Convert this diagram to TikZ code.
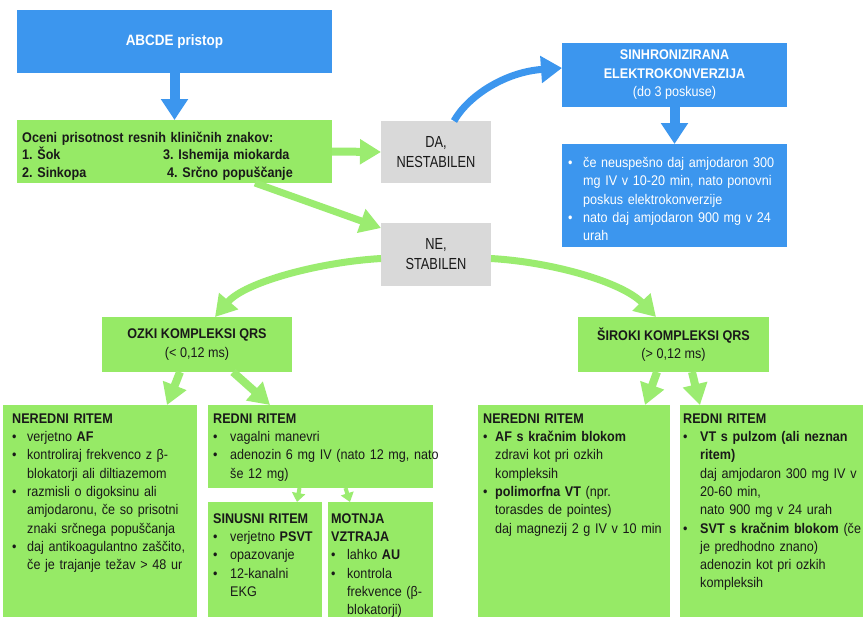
\documentclass[tikz,border=0pt]{standalone}
\usepackage{fontspec}
\setmainfont{Liberation Sans}[FakeStretch=0.9]
\newfontfamily\narrowsans{Liberation Sans}[FakeStretch=0.8]
\usetikzlibrary{arrows.meta,calc}
\setlength\parindent{0pt}
\frenchspacing

\definecolor{boxblue}{RGB}{60,150,238}
\definecolor{boxgreen}{RGB}{150,234,102}
\definecolor{arrowgreen}{RGB}{155,236,112}
\definecolor{boxgray}{RGB}{217,217,217}
\definecolor{inktext}{RGB}{25,25,25}

% bullet paragraph with hanging indent #1
\newcommand\bul[1]{\par\hangindent=#1\hangafter=1\noindent\makebox[#1][l]{\textbullet}}
% fixes the height of the first line so the top anchor is predictable
\newcommand\topstrut{\rule{0pt}{14pt}}

\tikzset{
  box/.style={anchor=north west, inner sep=0pt, outer sep=0pt},
  bluebox/.style={box, fill=boxblue},
  greenbox/.style={box, fill=boxgreen},
  graybox/.style={box, fill=boxgray, align=center, text=inktext,
    font=\narrowsans\fontsize{16}{20}\selectfont},
  centered/.style={align=center, font=\fontsize{14}{18.5}\selectfont},
  bodytext/.style={anchor=north west, inner sep=0pt, align=left, text width=330pt,
    font=\fontsize{14}{18.3}\selectfont, text=inktext},
  bluearrow/.style={draw=boxblue, line width=10pt, -{Triangle[width=26pt,length=21pt]}},
  greenarrow/.style={draw=arrowgreen, line width=8pt, -{Triangle[width=24pt,length=21pt]}},
  smallarrow/.style={draw=arrowgreen, line width=4pt, -{Triangle[width=13pt,length=9pt]}},
}

\begin{document}
\begin{tikzpicture}[x=1pt,y=-1pt]
\useasboundingbox (0,0) rectangle (864,616);
\clip (0,0) rectangle (864,616);
\fill[white] (0,0) rectangle (864,616);

% --- top row ---
\node[bluebox, minimum width=315pt, minimum height=63pt, text=white,
      font=\bfseries\fontsize{15}{18}\selectfont] (abcde) at (17,10) {ABCDE pristop};

\node[greenbox, minimum width=315pt, minimum height=63pt] (oceni) at (17,120) {};
\node[bodytext, font=\bfseries\fontsize{14}{17.5}\selectfont] (ocenitxt) at (22,128)
  {\topstrut Oceni prisotnost resnih kliničnih znakov:\newline
   \makebox[141pt][l]{1. Šok}3. Ishemija miokarda\newline
   \makebox[145pt][l]{2. Sinkopa}4. Srčno popuščanje\par};

\node[graybox, minimum width=110pt, minimum height=62pt] (da) at (381,121) {DA,\\NESTABILEN};

\node[bluebox, centered, minimum width=225pt, minimum height=64pt, text=white]
  (sinhro) at (562,43) {\textbf{SINHRONIZIRANA}\\\textbf{ELEKTROKONVERZIJA}\\(do 3 poskuse)};

\node[bluebox, minimum width=225pt, minimum height=103pt] (amjo) at (562,144) {};
\node[bodytext, text=white] (amjotxt) at (568,149)
  {\bul{15pt}\topstrut če neuspešno daj amjodaron 300\newline
     mg IV v 10-20 min, nato ponovni\newline poskus elektrokonverzije
   \bul{15pt}nato daj amjodaron 900 mg v 24\newline urah\par};

\node[graybox, minimum width=110pt, minimum height=63pt] (ne) at (381,223) {NE,\\STABILEN};

% --- QRS width ---
\node[greenbox, centered, minimum width=190pt, minimum height=55pt, text=inktext]
  (ozki) at (102,317) {\textbf{OZKI KOMPLEKSI QRS}\\(< 0,12 ms)};
\node[greenbox, centered, minimum width=191pt, minimum height=55pt, text=inktext]
  (siroki) at (578,317) {\textbf{ŠIROKI KOMPLEKSI QRS}\\(> 0,12 ms)};

% --- rhythm boxes ---
\node[greenbox, minimum width=194pt, minimum height=215pt] (nered1) at (3,405) {};
\node[greenbox, minimum width=225pt, minimum height=83pt]  (redni1) at (208,405) {};
\node[greenbox, minimum width=114pt, minimum height=115pt] (sinus)  at (208,502) {};
\node[greenbox, minimum width=105pt, minimum height=115pt] (motnja) at (328,502) {};
\node[greenbox, minimum width=192pt, minimum height=215pt] (nered2) at (478,405) {};
\node[greenbox, minimum width=183pt, minimum height=215pt] (redni2) at (680,405) {};

\node[bodytext] (nered1txt) at (12,409)
  {\topstrut\textbf{NEREDNI RITEM}
   \bul{15pt}verjetno \textbf{AF}
   \bul{15pt}kontroliraj frekvenco z β-\newline blokatorji ali diltiazemom
   \bul{15pt}razmisli o digoksinu ali\newline amjodaronu, če so prisotni\newline znaki srčnega popuščanja
   \bul{15pt}daj antikoagulantno zaščito,\newline če je trajanje težav > 48 ur\par};

\node[bodytext] (redni1txt) at (213,409)
  {\topstrut\textbf{REDNI RITEM}
   \bul{17pt}vagalni manevri
   \bul{17pt}adenozin 6 mg IV (nato 12 mg, nato\newline še 12 mg)\par};

\node[bodytext] (sinustxt) at (213,509)
  {\topstrut\textbf{SINUSNI RITEM}
   \bul{17pt}verjetno \textbf{PSVT}
   \bul{17pt}opazovanje
   \bul{17pt}12-kanalni\newline EKG\par};

\node[bodytext] (motnjatxt) at (331,509)
  {\topstrut\textbf{MOTNJA}\newline\textbf{VZTRAJA}
   \bul{16pt}lahko \textbf{AU}
   \bul{16pt}kontrola\newline frekvence (β-\newline blokatorji)\par};

\node[bodytext] (nered2txt) at (483,409)
  {\topstrut\textbf{NEREDNI RITEM}
   \bul{12pt}\textbf{AF s kračnim blokom}\newline zdravi kot pri ozkih\newline kompleksih
   \bul{12pt}\textbf{polimorfna VT} (npr.\newline torasdes de pointes)\newline daj magnezij 2 g IV v 10 min\par};

\node[bodytext] (redni2txt) at (683,409)
  {\topstrut\textbf{REDNI RITEM}
   \bul{17pt}\textbf{VT s pulzom (ali neznan}\newline\textbf{ritem)}\newline
     daj amjodaron 300 mg IV v\newline 20-60 min,\newline nato 900 mg v 24 urah
   \bul{17pt}\textbf{SVT s kračnim blokom} (če\newline je predhodno znano)\newline
     adenozin kot pri ozkih\newline kompleksih\par};

% --- connectors ---
\draw[bluearrow] (abcde.south) -- (oceni.north);
\draw[greenarrow] (oceni.east) -- (da.west);
\draw[bluearrow, line width=7pt] ([xshift=18pt]da.north)
  .. controls (468,96) and (505,72) .. ([yshift=7pt]sinhro.west);
\draw[bluearrow] (sinhro.south) -- (amjo.north);
\draw[greenarrow, line width=7pt] ([xshift=80.5pt]oceni.south) -- ([yshift=-5pt]ne.north west);

\draw[greenarrow, line width=7pt] ([yshift=-4pt]ne.west)
  .. controls (320,262) and (245,282) .. ([xshift=18pt]ozki.north);
\draw[greenarrow, line width=7pt] ([yshift=-4pt]ne.east)
  .. controls (552,262) and (622,282) .. ([xshift=-17.5pt]siroki.north);

\draw[greenarrow] ([xshift=-17pt]ozki.south) -- ([xshift=67pt]nered1.north);
\draw[greenarrow] ([xshift=36pt]ozki.south) -- ([xshift=-50.5pt]redni1.north);
\draw[greenarrow] ([xshift=-16.5pt]siroki.south) -- ([xshift=71pt]nered2.north);
\draw[greenarrow] ([xshift=18.5pt]siroki.south) -- ([xshift=-71.5pt]redni2.north);

\draw[smallarrow] ([xshift=-21pt]redni1.south) -- ([xshift=32pt]sinus.north);
\draw[smallarrow] ([xshift=25pt]redni1.south) -- ([xshift=-30.5pt]motnja.north);
\end{tikzpicture}
\end{document}
